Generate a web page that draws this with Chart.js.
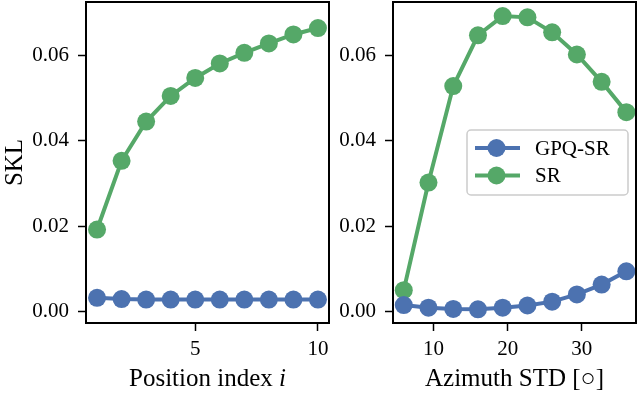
<!DOCTYPE html>
<html><head><meta charset="utf-8">
<script src="https://cdn.jsdelivr.net/npm/chart.js@4"></script>
<style>
html,body{margin:0;padding:0;background:#fff;}
#wrap{position:relative;width:640px;height:394px;overflow:hidden;background:#fff;}
#c1{position:absolute;left:0;top:0;}
#c2{position:absolute;left:330px;top:0;}
</style></head><body>
<div id="wrap"><canvas id="c1" width="330" height="394"></canvas><canvas id="c2" width="310" height="394"></canvas></div>
<script>
// ---- data ----
const seriesNames = ['GPQ-SR', 'SR'];
const positionIndex = [1, 2, 3, 4, 5, 6, 7, 8, 9, 10];
const leftGPQ = [0.0032, 0.0029, 0.0028, 0.0028, 0.0028, 0.0028, 0.0028, 0.0028, 0.0028, 0.0028];
const leftSR = [0.0192, 0.0353, 0.0445, 0.0505, 0.0547, 0.0581, 0.0606, 0.0628, 0.0649, 0.0664];
const azimuthStd = [6, 9.33, 12.67, 16, 19.33, 22.67, 26, 29.33, 32.67, 36];
const rightGPQ = [0.0015, 0.0009, 0.0006, 0.0005, 0.0009, 0.0014, 0.0023, 0.0040, 0.0063, 0.0094];
const rightSR = [0.0050, 0.0302, 0.0528, 0.0647, 0.0692, 0.0689, 0.0654, 0.0602, 0.0538, 0.0467];
const yTicks = [0, 0.02, 0.04, 0.06];
const xTicksLeft = [5, 10];
const xTicksRight = [10, 20, 30];
const yTitle = 'SKL';
const xTitleLeft = 'Position index ';
const xTitleLeftVar = 'i';
const xTitleRight = 'Azimuth STD [\u25CB]';

// ---- styles ----
const COLORS = ['#4C72B0', '#55A868'];
const FAMILY = '"Liberation Serif", "DejaVu Serif", serif';
const TICK_SIZE = 21;
const TITLE_SIZE = 25;

function pts(xs, ys) { return xs.map((x, i) => ({x: x, y: ys[i]})); }
function ds(label, xs, ys, color) {
  return {
    label: label, data: pts(xs, ys),
    borderColor: color, backgroundColor: color,
    borderWidth: 4, pointRadius: 9, pointBorderWidth: 0,
    pointBackgroundColor: color, pointHoverRadius: 9, tension: 0
  };
}

const framePlugin = {
  id: 'frame',
  afterDatasetsDraw(chart) {
    const {ctx, chartArea: a} = chart;
    ctx.save();
    ctx.strokeStyle = '#000';
    ctx.lineWidth = 2;
    ctx.strokeRect(a.left, a.top, a.right - a.left, a.bottom - a.top);
    ctx.restore();
  }
};

const italicTitlePlugin = {
  id: 'italicTitle',
  afterDraw(chart) {
    const ctx = chart.ctx, a = chart.chartArea;
    const cx = (a.left + a.right) / 2;
    const y = chart.height - TITLE_SIZE * 1.2 / 2;
    ctx.save();
    ctx.fillStyle = '#000';
    ctx.textBaseline = 'middle';
    ctx.textAlign = 'left';
    const fN = TITLE_SIZE + 'px ' + FAMILY, fI = 'italic ' + TITLE_SIZE + 'px ' + FAMILY;
    ctx.font = fN; const w1 = ctx.measureText(xTitleLeft).width;
    ctx.font = fI; const w2 = ctx.measureText(xTitleLeftVar).width;
    const x0 = cx - (w1 + w2) / 2;
    ctx.font = fN; ctx.fillText(xTitleLeft, x0, y);
    ctx.font = fI; ctx.fillText(xTitleLeftVar, x0 + w1, y);
    ctx.restore();
  }
};

const legendPlugin = {
  id: 'boxLegend',
  afterDraw(chart) {
    const ctx = chart.ctx, a = chart.chartArea;
    const bx = a.left + 74, by = 130, bw = 161, bh = 65, r = 4;
    ctx.save();
    ctx.fillStyle = 'rgba(255,255,255,0.8)';
    ctx.strokeStyle = '#cccccc';
    ctx.lineWidth = 1.5;
    ctx.beginPath();
    ctx.roundRect(bx, by, bw, bh, r);
    ctx.fill(); ctx.stroke();
    const rows = [148, 175.5];
    chart.data.datasets.forEach((d, i) => {
      const y = rows[i];
      ctx.strokeStyle = d.borderColor;
      ctx.lineWidth = 4;
      ctx.beginPath(); ctx.moveTo(bx + 8, y); ctx.lineTo(bx + 53, y); ctx.stroke();
      ctx.fillStyle = d.borderColor;
      ctx.beginPath(); ctx.arc(bx + 29.5, y, 9, 0, Math.PI * 2); ctx.fill();
      ctx.fillStyle = '#000';
      ctx.font = TICK_SIZE + 'px ' + FAMILY;
      ctx.textBaseline = 'middle';
      ctx.textAlign = 'left';
      ctx.fillText(d.label, bx + 68, y + 1);
    });
    ctx.restore();
  }
};

function makeScales(xMin, xMax, xTicks, yAxisWidth, withYTitle, xTitle) {
  const grid = {display: true, drawOnChartArea: false, drawTicks: true, tickLength: 8, tickWidth: 1.5, tickColor: '#000', color: '#000'};
  return {
    x: {
      type: 'linear', min: xMin, max: xMax,
      border: {display: false},
      grid: grid,
      afterBuildTicks: s => { s.ticks = xTicks.map(v => ({value: v})); },
      afterFit: s => { s.height = 71; s.paddingLeft = 0; s.paddingRight = 0; s.paddingTop = 0; s.paddingBottom = 0; },
      ticks: {color: '#000', font: {family: FAMILY, size: TICK_SIZE}, padding: 6, maxRotation: 0, autoSkip: false,
              callback: v => String(v)},
      title: xTitle ? {display: true, text: xTitle, color: '#000', font: {family: FAMILY, size: TITLE_SIZE}, padding: 0} : {display: false}
    },
    y: {
      type: 'linear', min: -0.0027, max: 0.0725,
      border: {display: false},
      grid: grid,
      afterBuildTicks: s => { s.ticks = yTicks.map(v => ({value: v})); },
      afterFit: s => { s.width = yAxisWidth; s.paddingTop = 0; s.paddingBottom = 0; s.paddingLeft = 0; s.paddingRight = 0; },
      ticks: {color: '#000', font: {family: FAMILY, size: TICK_SIZE}, padding: 9, autoSkip: false,
              callback: v => Number(v).toFixed(2)},
      title: withYTitle ? {display: true, text: yTitle, color: '#000', font: {family: FAMILY, size: TITLE_SIZE}, padding: 0} : {display: false}
    }
  };
}

const common = {
  responsive: false, animation: false, events: [],
  plugins: {legend: {display: false}, tooltip: {enabled: false}}
};

new Chart(document.getElementById('c1'), {
  type: 'line',
  data: {datasets: [ds(seriesNames[0], positionIndex, leftGPQ, COLORS[0]), ds(seriesNames[1], positionIndex, leftSR, COLORS[1])]},
  options: Object.assign({}, common, {
    layout: {autoPadding: false, padding: {left: 0, top: 2, right: 1, bottom: 0}},
    scales: makeScales(0.55, 10.45, xTicksLeft, 86, true, null)
  }),
  plugins: [framePlugin, italicTitlePlugin]
});

new Chart(document.getElementById('c2'), {
  type: 'line',
  data: {datasets: [ds(seriesNames[0], azimuthStd, rightGPQ, COLORS[0]), ds(seriesNames[1], azimuthStd, rightSR, COLORS[1])]},
  options: Object.assign({}, common, {
    layout: {autoPadding: false, padding: {left: 0, top: 2, right: 4, bottom: 0}},
    scales: makeScales(4.55, 37.3, xTicksRight, 63, false, xTitleRight)
  }),
  plugins: [framePlugin, legendPlugin]
});
</script>
</body></html>
